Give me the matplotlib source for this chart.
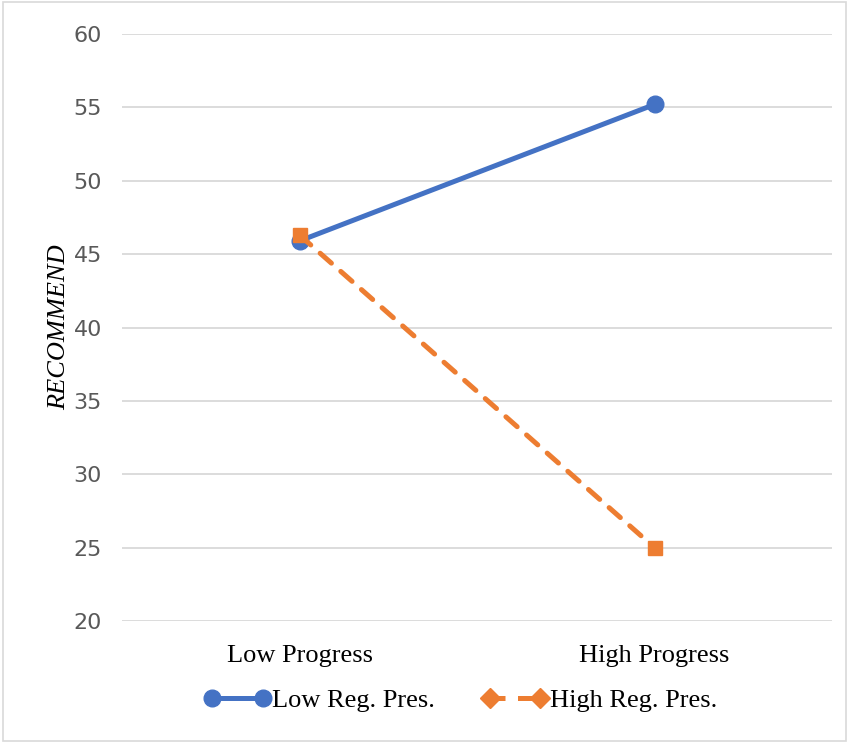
import matplotlib
matplotlib.use("Agg")
import matplotlib.pyplot as plt
from matplotlib.lines import Line2D
from matplotlib.patches import Rectangle

# 조건별 평균 값
categories = ["Low Progress", "High Progress"]
low_reg = [45.9, 55.2]
high_reg = [46.3, 25.0]
series_names = ["Low Reg. Pres.", "High Reg. Pres."]

blue = "#4472C4"
orange = "#ED7D31"

fig = plt.figure(figsize=(8.49, 7.43), dpi=100)
ax = fig.add_axes([0.1437, 0.1642, 0.8363, 0.79])

x = range(len(categories))
ax.plot(x, low_reg, color=blue, lw=3.6, marker="o", ms=12,
        solid_capstyle="round", zorder=3)
ax.plot(x, high_reg, color=orange, lw=3.6, ls=(0, (3, 2.5)), marker="s", ms=9.5,
        dash_capstyle="round", zorder=4)

ax.set_xlim(-0.5, 1.5)
ax.set_ylim(20, 60)
ax.set_yticks(range(20, 61, 5))
ax.set_xticks(list(x))
ax.set_xticklabels(categories, family="Liberation Serif", fontsize=19)
ax.tick_params(axis="x", length=0, pad=17, colors="black")
ax.tick_params(axis="y", length=0, pad=14.5, labelsize=16, labelcolor="#595959")
ax.grid(axis="y", color="#D9D9D9", lw=1.3)
ax.set_axisbelow(True)
for s in ax.spines.values():
    s.set_visible(False)

ax.set_ylabel("RECOMMEND", family="Liberation Serif", style="italic",
              fontsize=19, labelpad=2)

# 범례: 마름모 모양 마커
handles = [
    Line2D([], [], color=blue, lw=3.6, marker="o", ms=12),
    Line2D([], [], color=orange, lw=3.6, ls=(0, (3, 2.5)), marker="D", ms=10),
]
ax.legend(handles, series_names, loc="center", bbox_to_anchor=(0.477, -0.135),
          ncol=2, frameon=False, prop={"family": "Liberation Serif", "size": 19},
          handlelength=2.5, handletextpad=0.05, columnspacing=1.8, numpoints=2)

fig.patches.append(Rectangle((0.004, 0.003), 0.992, 0.994, transform=fig.transFigure,
                             fill=False, edgecolor="#D9D9D9", lw=1.2))

plt.savefig("out.png", dpi=100)
plt.close()
